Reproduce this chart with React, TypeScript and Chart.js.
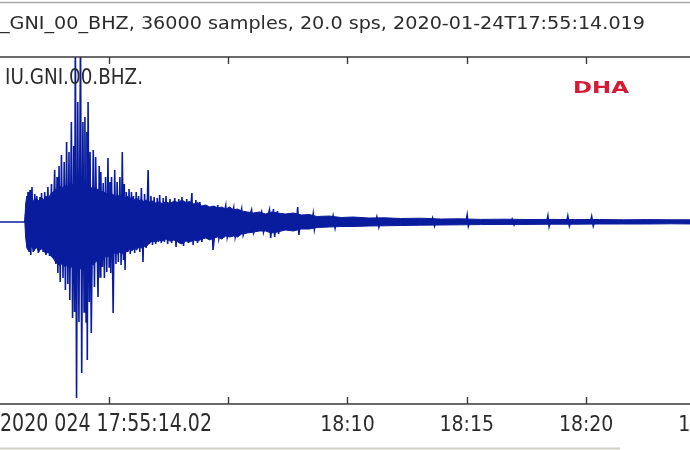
import { useEffect, useRef } from "react";
import { Chart, registerables } from "chart.js";

Chart.register(...registerables);

// ---- text ----
const TITLE = "_GNI_00_BHZ, 36000 samples, 20.0 sps, 2020-01-24T17:55:14.019";
const TRACE_LABEL = "IU.GNI.00.BHZ.";
const START_LABEL = "2020 024 17:55:14.02";
const LOGO = "DHA";

// ---- time axis (seconds after trace start 17:55:14.019) ----
const tickSeconds = [286, 586, 886, 1186, 1486, 1786];
const tickLabels = ["", "", "18:10", "18:15", "18:20", "18:25"];

// ---- envelope of the dense oscillation (counts) ----
const envTime = [
  75, 77, 80, 86, 92, 98, 104, 110, 116, 122, 128, 134, 140, 146, 152, 158, 164, 170, 176, 182,
  188, 194, 200, 206, 212, 218, 224, 230, 236, 242, 248, 254, 260, 266, 272, 278, 284, 290, 296, 302,
  308, 314, 320, 326, 332, 338, 344, 350, 356, 362, 368, 374, 380, 388, 396, 404, 412, 420, 430, 440,
  450, 460, 470, 480, 490, 500, 510, 520, 530, 540, 550, 560, 570, 580, 590, 600, 610, 620, 635, 650,
  665, 680, 695, 710, 730, 750, 770, 790, 810, 840, 870, 900, 940, 980, 1020, 1070, 1120, 1170, 1220, 1280,
  1340, 1400, 1460, 1520, 1580, 1640, 1700, 1760, 1800,
];
const envUpper = [
  0, 180, 260, 220, 250, 200, 240, 210, 250, 220, 260, 230, 280, 300, 330, 310, 360, 340, 370, 350,
  390, 370, 400, 380, 400, 370, 390, 350, 370, 340, 350, 320, 330, 300, 310, 280, 290, 260, 280, 250,
  270, 250, 270, 240, 260, 230, 250, 220, 240, 210, 230, 200, 220, 200, 210, 190, 200, 185, 200, 185,
  210, 195, 220, 195, 205, 180, 195, 160, 170, 150, 160, 140, 150, 130, 150, 120, 130, 110, 100, 90,
  100, 80, 100, 90, 80, 90, 70, 75, 55, 60, 45, 50, 40, 42, 35, 38, 30, 32, 26, 28,
  25, 26, 24, 25, 22, 24, 22, 22, 20,
];
const envLower = [
  0, -150, -260, -300, -240, -290, -250, -300, -260, -280, -320, -300, -340, -360, -400, -420, -440, -400, -450, -430,
  -470, -440, -480, -460, -480, -450, -470, -430, -450, -420, -430, -390, -400, -370, -380, -340, -350, -320, -340, -300,
  -320, -300, -320, -290, -300, -270, -290, -260, -280, -250, -260, -240, -250, -210, -190, -200, -180, -190, -170, -190,
  -180, -200, -220, -190, -200, -180, -190, -170, -160, -180, -160, -150, -170, -140, -150, -140, -150, -120, -110, -100,
  -90, -90, -110, -100, -80, -90, -70, -70, -55, -50, -45, -45, -40, -38, -35, -32, -30, -28, -26, -24,
  -24, -22, -22, -20, -20, -20, -18, -20, -18,
];

// ---- individual swings of the trace (counts) ----
const traceTime = [
  0, 75, 78, 80, 83, 85, 88, 90, 93, 96,
  100, 102, 105, 109, 113, 115, 117, 121, 125, 128,
  133, 137, 142, 145, 150, 153, 156, 158, 161, 164,
  167, 171, 174, 177, 180, 183, 186, 188, 192, 195,
  198, 200, 202, 205, 208, 211, 215, 218, 221, 224,
  226, 229, 231, 232, 234, 237, 239, 242, 247, 250,
  253, 259, 262, 264, 266, 270, 272, 275, 278, 281,
  284, 287, 289, 291, 293, 297, 301, 304, 307, 310,
  314, 317, 320, 323, 325, 327, 330, 334, 337, 340,
  343, 346, 348, 351, 355, 358, 361, 364, 368, 372,
  376, 380, 385, 388, 392, 396, 400, 404, 408, 411,
  414, 418, 423, 426, 430, 434, 440, 444, 452, 455,
  462, 466, 470, 474, 482, 486, 495, 498, 505, 509,
  515, 520, 530, 535, 545, 548, 560, 563, 580, 584,
  600, 604, 620, 624, 645, 650, 670, 675, 690, 693,
  700, 703, 710, 713, 716, 758, 761, 764, 767, 797,
  800, 803, 806, 847, 850, 855, 858, 957, 960, 965,
  968, 1097, 1100, 1105, 1108, 1184, 1187, 1190, 1193, 1297,
  1300, 1305, 1308, 1387, 1390, 1393, 1396, 1437, 1440, 1444,
  1447, 1497, 1500, 1504, 1507, 1800,
];
const traceAmp = [
  0, 0, 120, -200, 300, -260, 320, -330, 350, -300,
  280, -260, 260, -310, 250, -280, 290, -300, 300, -330,
  350, -340, 380, -300, 520, -420, 450, -510, 560, -600,
  670, -560, 600, -680, 800, -620, 700, -780, 1000, -960,
  760, -900, 1900, -1760, 1200, -1000, 1900, -1510, 1000, -900,
  1050, -1000, 900, -1380, 1200, -800, 700, -1110, 720, -650,
  650, -750, 560, -550, 500, -450, 390, -560, 450, -500,
  640, -450, 400, -510, 450, -910, 520, -420, 400, -400,
  450, -430, 700, -380, 380, -480, 300, -300, 330, -320,
  300, -280, 260, -310, 300, -260, 260, -300, 340, -400,
  280, -260, 520, -220, 260, -230, 250, -220, 240, -200,
  270, -210, 240, -200, 260, -220, 230, -210, 240, -250,
  230, -220, 250, -240, 230, -210, 290, -230, 220, -210,
  200, -200, 160, -170, 150, -280, 170, -160, 160, -150,
  140, -150, 130, -130, 120, -110, 100, -100, 120, -160,
  130, -150, 110, -120, 0, 0, 150, -130, 0, 0,
  80, -70, 0, 0, 60, -60, 0, 0, 50, -50,
  0, 0, 40, -40, 0, 0, 70, -40, 0, 0,
  30, -30, 0, 0, 60, -45, 0, 0, 60, -40,
  0, 0, 55, -40, 0, 0,
];

const BLUE = "#0a1c9e";
const TEXT = "#2b2b2b";
const FONT = "'DejaVu Sans', sans-serif";
const SHIFT = 5; // canvas x = page x + SHIFT

function fitText(
  ctx: CanvasRenderingContext2D,
  text: string,
  font: string,
  color: string,
  left: number,
  baseline: number,
  width: number,
  capHeight: number
) {
  ctx.save();
  ctx.font = font;
  ctx.fillStyle = color;
  ctx.textBaseline = "alphabetic";
  ctx.textAlign = "left";
  const w = ctx.measureText(text).width;
  const cap = ctx.measureText("H").actualBoundingBoxAscent || 14;
  ctx.translate(left, baseline);
  ctx.scale(width / w, capHeight / cap);
  ctx.fillText(text, 0, 0);
  ctx.restore();
}

const decorPlugin = {
  id: "decor",
  afterDatasetsDraw(chart: any) {
    const { ctx, chartArea: a, scales } = chart;
    const xs = scales.x;
    ctx.save();
    ctx.strokeStyle = "#3a3a3a";
    ctx.lineWidth = 1.6;
    ctx.beginPath();
    ctx.moveTo(a.left, a.top);
    ctx.lineTo(a.right, a.top);
    ctx.moveTo(a.left, a.bottom);
    ctx.lineTo(a.right, a.bottom);
    ctx.stroke();
    ctx.lineWidth = 1.4;
    ctx.beginPath();
    for (const t of tickSeconds) {
      const px = Math.round(xs.getPixelForValue(t)) + 0.5;
      ctx.moveTo(px, a.top);
      ctx.lineTo(px, a.top + 7);
      ctx.moveTo(px, a.bottom);
      ctx.lineTo(px, a.bottom - 7);
    }
    ctx.stroke();
    ctx.restore();
  },
  afterDraw(chart: any) {
    const { ctx, width } = chart;
    ctx.save();
    ctx.strokeStyle = "#a8a8a8";
    ctx.lineWidth = 1.5;
    ctx.beginPath();
    ctx.moveTo(0, 2.5);
    ctx.lineTo(width, 2.5);
    ctx.stroke();
    ctx.strokeStyle = "#d4d0c4";
    ctx.lineWidth = 2;
    ctx.beginPath();
    ctx.moveTo(SHIFT, 448.5);
    ctx.lineTo(SHIFT + 620, 448.5);
    ctx.stroke();
    ctx.restore();

    fitText(ctx, TITLE, `19px ${FONT}`, TEXT, SHIFT + 0, 28.5, 645, 13.5);
    fitText(ctx, TRACE_LABEL, `19px ${FONT}`, TEXT, SHIFT + 5, 84, 138, 15);
    fitText(ctx, START_LABEL, `20px ${FONT}`, TEXT, SHIFT + 0, 430.5, 212, 17);
    fitText(ctx, LOGO, `bold 16px ${FONT}`, "#d41a34", SHIFT + 573, 93, 56, 12);
  },
};

export default function App() {
  const ref = useRef<HTMLCanvasElement>(null);
  useEffect(() => {
    const canvas = ref.current;
    if (!canvas) return;
    const chart = new Chart(canvas, {
      type: "line",
      data: {
        datasets: [
          {
            label: "trace",
            data: traceTime.map((t, i) => ({ x: t, y: traceAmp[i] })),
            borderColor: BLUE,
            borderWidth: 1.6,
            pointRadius: 0,
            tension: 0,
            fill: false,
          },
          {
            label: "upper",
            data: envTime.map((t, i) => ({ x: t, y: envUpper[i] })),
            borderColor: BLUE,
            borderWidth: 1,
            pointRadius: 0,
            tension: 0,
            fill: false,
          },
          {
            label: "lower",
            data: envTime.map((t, i) => ({ x: t, y: envLower[i] })),
            borderColor: BLUE,
            backgroundColor: BLUE,
            borderWidth: 1,
            pointRadius: 0,
            tension: 0,
            fill: "-1",
          },
        ],
      },
      options: {
        animation: false,
        responsive: false,
        devicePixelRatio: 1,
        layout: { padding: { top: 57, left: 0, right: 0, bottom: 0 } },
        plugins: { legend: { display: false }, tooltip: { enabled: false }, title: { display: false } },
        scales: {
          x: {
            type: "linear",
            min: 0,
            max: 1800,
            grid: { display: false },
            border: { display: false },
            afterBuildTicks: (s: any) => {
              s.ticks = tickSeconds.map((v) => ({ value: v }));
            },
            afterFit: (s: any) => {
              s.height = 46;
              s.paddingLeft = 0;
              s.paddingRight = 0;
            },
            ticks: {
              autoSkip: false,
              maxRotation: 0,
              minRotation: 0,
              padding: 1,
              color: TEXT,
              font: { family: "'DejaVu Sans Condensed', 'DejaVu Sans', sans-serif", size: 21 },
              callback: (v: any) => {
                const i = tickSeconds.indexOf(Number(v));
                return i >= 0 ? tickLabels[i] : "";
              },
            },
          },
          y: { type: "linear", display: false, min: -1820, max: 1650 },
        },
      },
      plugins: [decorPlugin],
    } as any);
    return () => chart.destroy();
  }, []);

  return (
    <div
      style={{
        position: "fixed",
        left: 0,
        top: 0,
        width: 690,
        height: 450,
        overflow: "hidden",
        background: "#ffffff",
      }}
    >
      <canvas
        ref={ref}
        width={716}
        height={450}
        style={{ position: "absolute", left: -SHIFT, top: 0, width: 716, height: 450 }}
      />
    </div>
  );
}
